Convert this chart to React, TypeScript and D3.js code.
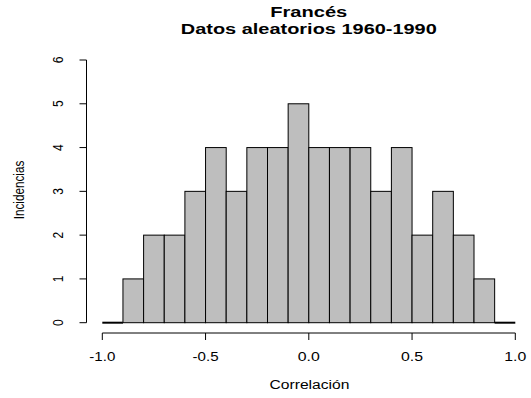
import React from "react";
import * as d3 from "d3";

const binStarts = [-1.0, -0.9, -0.8, -0.7, -0.6, -0.5, -0.4, -0.3, -0.2, -0.1, 0.0, 0.1, 0.2, 0.3, 0.4, 0.5, 0.6, 0.7, 0.8, 0.9];
const counts = [0, 1, 2, 2, 3, 4, 3, 4, 4, 5, 4, 4, 4, 3, 4, 2, 3, 2, 1, 0];
const binWidth = 0.1;
const xTicks = [-1.0, -0.5, 0.0, 0.5, 1.0];
const yTicks = [0, 1, 2, 3, 4, 5, 6];

const W = 531, H = 398;
const font = "Liberation Sans, Arial, Helvetica, sans-serif";

export default function App() {
  const x = d3.scaleLinear().domain([-1, 1]).range([102.3, 515.3]);
  const y = d3.scaleLinear().domain([0, 6]).range([322.7, 60]);
  const axisY = 333;
  const axisX = 86.5;
  const fmt = (t: number) => d3.format(".1f")(t).replace("\u2212", "-");
  return (
    <svg width={W} height={H} style={{ position: "absolute", left: 0, top: 0, background: "#fff" }}>
      {binStarts.map((b, i) =>
        counts[i] > 0 ? (
          <rect key={i} x={x(b)} y={y(counts[i])} width={x(b + binWidth) - x(b)} height={y(0) - y(counts[i])}
            fill="#BEBEBE" stroke="#000" strokeWidth={1} />
        ) : (
          <line key={i} x1={x(b)} x2={x(b + binWidth)} y1={y(0)} y2={y(0)} stroke="#000" strokeWidth={2} />
        )
      )}
      {/* x axis */}
      <line x1={x(-1)} x2={x(1)} y1={axisY} y2={axisY} stroke="#000" />
      {xTicks.map((t) => {
        const s = fmt(t);
        return (
          <g key={t}>
            <line x1={x(t)} x2={x(t)} y1={axisY} y2={axisY + 7} stroke="#000" />
            <text x={x(t)} y={361} textAnchor="middle" fontFamily={font} fontSize={12.5}
              textLength={s.length === 4 ? 26 : 22} lengthAdjust="spacingAndGlyphs">{s}</text>
          </g>
        );
      })}
      {/* y axis */}
      <line x1={axisX} x2={axisX} y1={y(0)} y2={y(6)} stroke="#000" />
      {yTicks.map((t) => (
        <g key={t}>
          <line x1={axisX} x2={axisX - 7} y1={y(t)} y2={y(t)} stroke="#000" />
          <text transform={`translate(63,${y(t)}) scale(1.25,1) rotate(-90)`} textAnchor="middle" fontFamily={font} fontSize={12}>{t}</text>
        </g>
      ))}
      <text x={309.5} y={389} textAnchor="middle" fontFamily={font} fontSize={12.5} textLength={80} lengthAdjust="spacingAndGlyphs">Correlación</text>
      <text transform={`translate(24,190) scale(1.25,1) rotate(-90)`} textAnchor="middle" fontFamily={font} fontSize={12} textLength={58.5} lengthAdjust="spacingAndGlyphs">Incidencias</text>
      <text x={308.8} y={17} textAnchor="middle" fontFamily={font} fontSize={14} fontWeight="bold" textLength={77} lengthAdjust="spacingAndGlyphs">Francés</text>
      <text x={308.8} y={34} textAnchor="middle" fontFamily={font} fontSize={14} fontWeight="bold" textLength={256} lengthAdjust="spacingAndGlyphs">Datos aleatorios 1960-1990</text>
    </svg>
  );
}
